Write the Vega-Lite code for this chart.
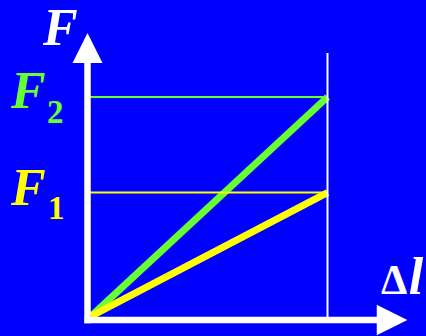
{
  "$schema": "https://vega.github.io/schema/vega-lite/v6.json",
  "width": 426,
  "height": 336,
  "autosize": {"type": "fit", "contains": "padding"},
  "padding": 0,
  "background": "#0000ff",
  "config": {"view": {"stroke": null}},
  "encoding": {
    "x": {"field": "x", "type": "quantitative", "scale": {"domain": [-0.3646, 1.4104], "nice": false, "zero": false}, "axis": null},
    "y": {"field": "y", "type": "quantitative", "scale": {"domain": [-0.5022, 10.045], "nice": false, "zero": false}, "axis": null},
    "color": {"field": "series", "type": "nominal", "scale": {"domain": ["axis", "F1", "F2"], "range": ["#ffffff", "#ffff00", "#66ff33"]}, "legend": null}
  },
  "layer": [
    {
      "data": {"values": [
        {"series": "F2", "x": 0.015, "y": 0.12, "x2": 1, "y2": 7},
        {"series": "F1", "x": 0.015, "y": 0.12, "x2": 1, "y2": 4}
      ]},
      "mark": {"type": "rule", "strokeWidth": 7, "strokeCap": "butt"},
      "encoding": {"x2": {"field": "x2"}, "y2": {"field": "y2"}}
    },
    {
      "data": {"values": [
        {"series": "F2", "x": 0, "y": 7, "x2": 1, "y2": 7},
        {"series": "F1", "x": 0, "y": 4, "x2": 1, "y2": 4},
        {"series": "axis", "x": 1, "y": 0, "x2": 1, "y2": 8.38}
      ]},
      "mark": {"type": "rule", "strokeWidth": 2},
      "encoding": {"x2": {"field": "x2"}, "y2": {"field": "y2"}}
    },
    {
      "data": {"values": [
        {"series": "axis", "x": 0, "y": -0.1, "x2": 0, "y2": 8.1},
        {"series": "axis", "x": -0.0125, "y": 0, "x2": 1.21, "y2": 0}
      ]},
      "mark": {"type": "rule", "strokeWidth": 6.5, "strokeCap": "butt"},
      "encoding": {"x2": {"field": "x2"}, "y2": {"field": "y2"}}
    },
    {
      "data": {"values": [{"series": "axis", "x": 0, "y": 8.538}]},
      "mark": {"type": "point", "shape": "M0,-1L1,1L-1,1Z", "size": 900, "filled": true, "opacity": 1, "strokeWidth": 0}
    },
    {
      "data": {"values": [{"series": "axis", "x": 1.269, "y": 0}]},
      "mark": {"type": "point", "shape": "M1,0L-1,-1L-1,1Z", "size": 940, "filled": true, "opacity": 1, "strokeWidth": 0}
    },
    {
      "data": {"values": [
        {"series": "axis", "label": "F", "x": -0.1854, "y": 8.632},
        {"series": "F2", "label": "F", "x": -0.3188, "y": 6.655},
        {"series": "F1", "label": "F", "x": -0.3188, "y": 3.61}
      ]},
      "mark": {"type": "text", "align": "left", "baseline": "alphabetic", "font": "Liberation Serif", "fontWeight": "bold", "fontStyle": "italic", "fontSize": 52},
      "encoding": {"text": {"field": "label"}}
    },
    {
      "data": {"values": [{"series": "axis", "label": "l", "x": 1.339, "y": 0.816}]},
      "mark": {"type": "text", "align": "left", "baseline": "alphabetic", "font": "Liberation Serif", "fontWeight": "bold", "fontStyle": "italic", "fontSize": 52},
      "encoding": {"text": {"field": "label"}}
    },
    {
      "data": {"values": [
        {"series": "F2", "label": "2", "x": -0.1688, "y": 6.184},
        {"series": "F1", "label": "1", "x": -0.1646, "y": 3.17}
      ]},
      "mark": {"type": "text", "align": "left", "baseline": "alphabetic", "font": "Liberation Serif", "fontWeight": "bold", "fontSize": 33},
      "encoding": {"text": {"field": "label"}}
    },
    {
      "data": {"values": [{"series": "axis", "label": "Δ", "x": 1.2229, "y": 0.816}]},
      "mark": {"type": "text", "align": "left", "baseline": "alphabetic", "font": "Liberation Serif", "fontWeight": "bold", "fontSize": 42},
      "encoding": {"text": {"field": "label"}}
    }
  ]
}
